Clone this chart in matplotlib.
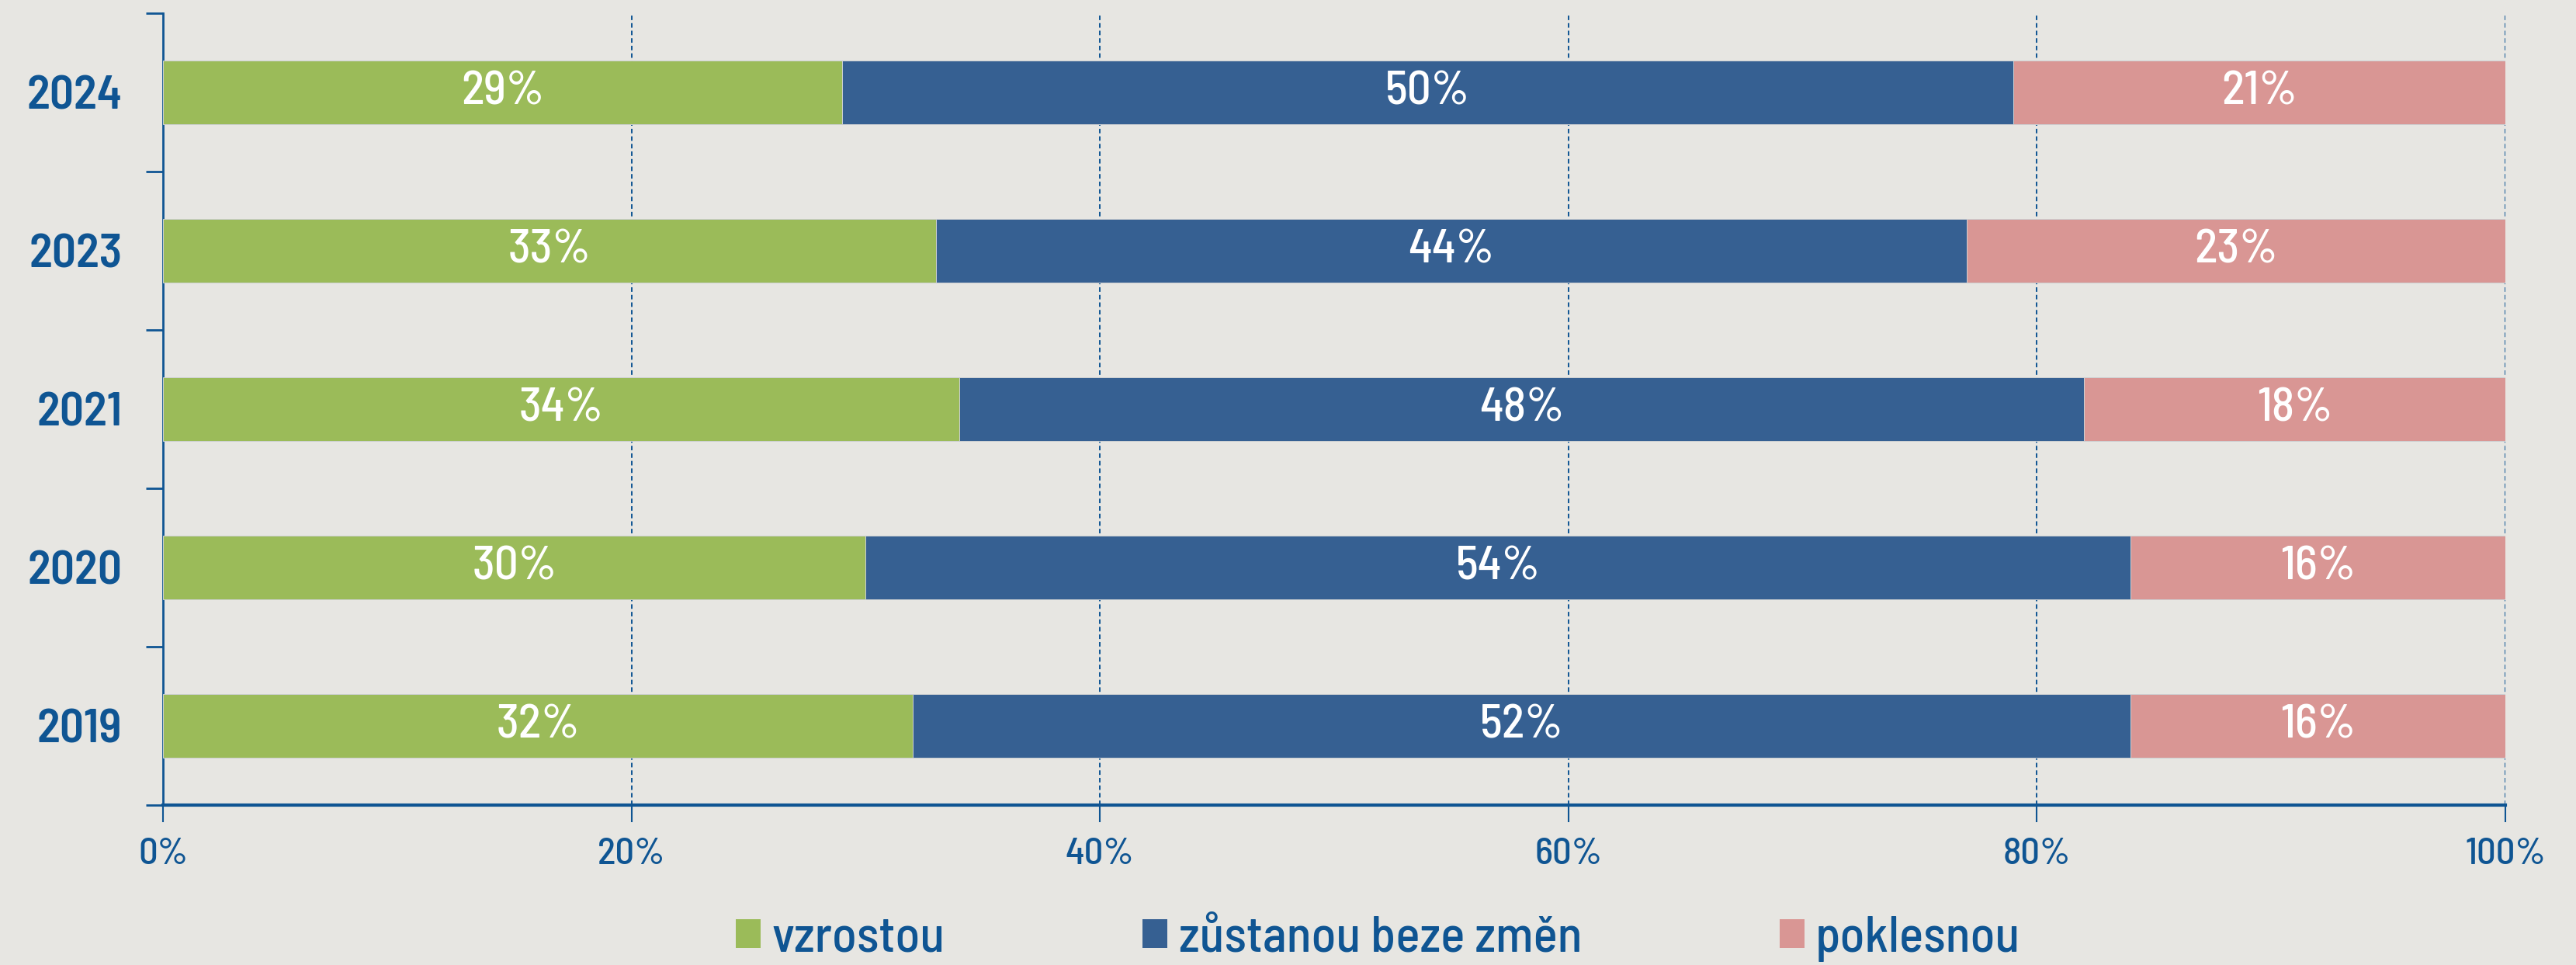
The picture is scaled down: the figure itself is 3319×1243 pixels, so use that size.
import matplotlib
matplotlib.use("Agg")
import matplotlib.pyplot as plt
from matplotlib.patches import Patch
import numpy as np

years = ["2024", "2023", "2021", "2020", "2019"]
series_names = ["vzrostou", "zůstanou beze změn", "poklesnou"]
vzrostou = [29, 33, 34, 30, 32]
zustanou = [50, 44, 48, 54, 52]
poklesnou = [21, 23, 18, 16, 16]
xticks = [0, 20, 40, 60, 80, 100]
xtick_labels = ["0%", "20%", "40%", "60%", "80%", "100%"]

BG = "#E7E6E2"
TXT = "#0F5593"
colors = ["#9BBB59", "#366092", "#D99694"]

plt.rcParams["font.family"] = ["Barlow Semi Condensed", "DejaVu Sans"]

fig = plt.figure(figsize=(33.19, 12.43), dpi=100, facecolor=BG)
ax = fig.add_axes([0.0633, 0.1657, 0.9093, 0.8206], facecolor=BG)

y = np.arange(len(years))[::-1]  # 2024 top
data = [vzrostou, zustanou, poklesnou]
left = np.zeros(len(years))
for vals, c, nm in zip(data, colors, series_names):
    vals = np.array(vals, dtype=float)
    ax.barh(y, vals, left=left, height=0.4, color=c, edgecolor="#CDD0D2", linewidth=0.7,
            label=nm, zorder=3)
    for yi, l, v in zip(y, left, vals):
        ax.text(l + v / 2, yi, f"{int(v)}%", ha="center", va="center", color="white",
                fontsize=44, fontweight="medium", zorder=4)
    left += vals

ax.set_xlim(0, 100)
ax.set_ylim(-0.5, len(years) - 0.5)

ax.set_xticks(xticks)
ax.set_xticklabels(xtick_labels, fontsize=35, color=TXT, fontweight="medium")
ax.tick_params(axis="x", length=16, width=1.5, color=TXT, pad=14, direction="out")

ax.set_yticks(np.arange(-0.5, len(years), 1.0))
ax.set_yticklabels([])
ax.set_yticks(y, minor=True)
ax.set_yticklabels(years, minor=True, fontsize=44, color=TXT, fontweight="semibold")
ax.tick_params(axis="y", which="major", length=16, width=2, color=TXT, direction="out")
ax.tick_params(axis="y", which="minor", length=0, pad=38)

for x in xticks[1:]:
    ax.axvline(x, color=TXT, lw=1.4, ls=(0, (3, 2)), zorder=1)

for s in ["top", "right"]:
    ax.spines[s].set_visible(False)
ax.spines["left"].set_color(TXT)
ax.spines["left"].set_linewidth(2)
ax.spines["bottom"].set_color(TXT)
ax.spines["bottom"].set_linewidth(3)

handles = [Patch(facecolor=c, edgecolor="none") for c in colors]
leg = fig.legend(handles, series_names, loc="center", bbox_to_anchor=(0.535, 0.027), ncol=3,
                 frameon=False, fontsize=47, labelcolor=TXT, handlelength=0.49, handleheight=0.49,
                 handletextpad=0.22, columnspacing=3.9)
for t in leg.get_texts():
    t.set_fontweight("medium")

fig.savefig("out.png", dpi=100, facecolor=BG)
